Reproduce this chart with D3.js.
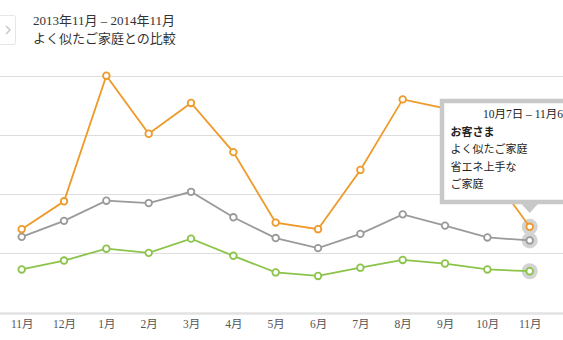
<!DOCTYPE html>
<html><head><meta charset="utf-8">
<script src="https://cdn.jsdelivr.net/npm/d3@7"></script>
<style>
html,body{margin:0;padding:0;background:#fff;overflow:hidden;}
svg{display:block;font-family:"Liberation Serif","Noto Sans CJK JP",serif;}
</style></head>
<body><svg id="c" width="563" height="340"></svg>
<script>
const categories = ["11月","12月","1月","2月","3月","4月","5月","6月","7月","8月","9月","10月","11月"];
const customer = [141,188,400,302,354,271,152,141,241,360,345,243,145];
const similar  = [128,155,189,185,204,161,126,109,133,166,147,127,122];
const efficient= [73,88,108,101,125,96,68,62,76,89,83,73,70];
const gridTicks = [0,100,200,300,400];
const titleLines = ["2013年11月 – 2014年11月","よく似たご家庭との比較"];
const tooltipDate = "10月7日 – 11月6日";
const tooltipItems = [{t:"お客さま",b:true},{t:"よく似たご家庭"},{t:"省エネ上手な"},{t:"ご家庭"}];
const seriesList = [
  {name:"similar", values:similar, color:"#9a9a9a"},
  {name:"efficient", values:efficient, color:"#8cc34b"},
  {name:"customer", values:customer, color:"#ee9a2a"}
];

const svg = d3.select("#c");
const x = d3.scalePoint().domain(d3.range(categories.length)).range([21.7,529.7]);
const y = d3.scaleLinear().domain([0,400]).range([312.7,75.7]);

// gridlines
svg.append("g").selectAll("line").data(gridTicks).join("line")
  .attr("x1",0).attr("x2",563)
  .attr("y1",d=>Math.round(y(d))+0.5).attr("y2",d=>Math.round(y(d))+0.5)
  .attr("stroke",d=>d===0?"#e2e2e2":"#dddddd")
  .attr("stroke-width",d=>d===0?2.5:1);

// x axis labels
const xAxis = d3.axisBottom(x).tickSize(0).tickPadding(0).tickFormat(i=>categories[i]);
const ax = svg.append("g").attr("transform","translate(0,318)").call(xAxis);
ax.select(".domain").remove();
ax.selectAll("text").attr("fill","#555").attr("font-size","11.5px")
  .attr("font-family",'"Liberation Serif","Noto Sans CJK JP",serif').attr("dy","0.9em");

// title
const tg = svg.append("g");
tg.append("rect").attr("x",-6).attr("y",15.5).attr("width",21.5).attr("height",29).attr("rx",2)
  .attr("fill","#fff").attr("stroke","#e6e6e6");
tg.append("path").attr("d","M6,26 L10,30 L6,34").attr("fill","none").attr("stroke","#c8c8c8").attr("stroke-width",1.5);
titleLines.forEach((t,i)=>{
  tg.append("text").attr("x",33).attr("y",25+i*17.5).attr("font-size","13px").attr("fill","#333").text(t);
});

// lines
const line = d3.line().x((d,i)=>x(i)).y(d=>y(d));
const lastI = categories.length-1;
seriesList.forEach(s=>{
  svg.append("circle").attr("cx",x(lastI)).attr("cy",y(s.values[lastI])).attr("r",8).attr("fill","#d3d3d3");
});
seriesList.forEach(s=>{
  svg.append("path").datum(s.values).attr("d",line).attr("fill","none")
    .attr("stroke",s.color).attr("stroke-width",1.8);
  svg.append("g").selectAll("circle").data(s.values).join("circle")
    .attr("cx",(d,i)=>x(i)).attr("cy",d=>y(d)).attr("r",3.3)
    .attr("fill","#fff").attr("stroke",s.color).attr("stroke-width",1.8);
});

// tooltip
const tt = svg.append("g");
const bx=442, by=101, bw=140, bh=101;
const px = x(lastI);
tt.append("path")
  .attr("d",`M${px-10},${by+bh} L${px},${by+bh+11} L${px+10},${by+bh} Z`).attr("fill","#c8c8c8");
tt.append("rect").attr("x",bx).attr("y",by).attr("width",bw).attr("height",bh)
  .attr("fill","#fff").attr("stroke","#c8c8c8").attr("stroke-width",4.5);
tt.append("text").attr("x",483).attr("y",118).attr("font-size","11.5px").attr("fill","#222").text(tooltipDate);
tooltipItems.forEach((d,i)=>{
  tt.append("text").attr("x",450.5).attr("y",136+i*17.3).attr("font-size","11px")
    .attr("font-weight",d.b?"bold":"normal").attr("fill","#222")
    .attr("font-family",'"Noto Sans CJK JP",sans-serif').text(d.t);
});
</script></body></html>
